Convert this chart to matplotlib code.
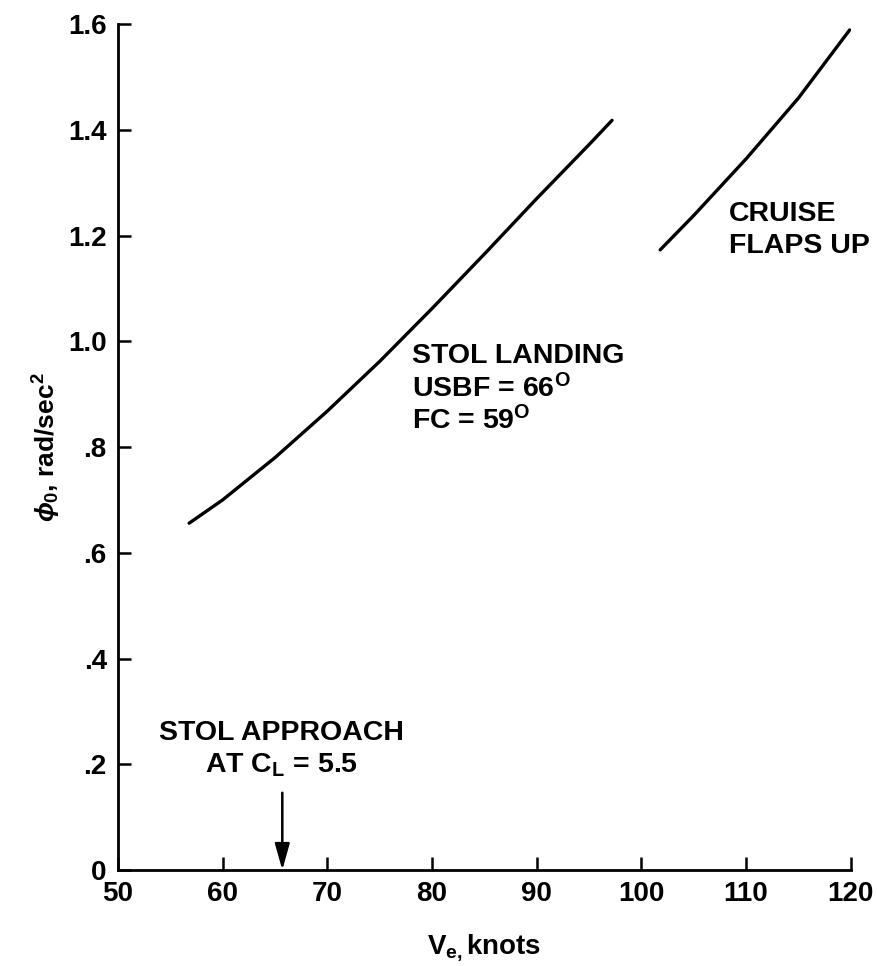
import matplotlib
matplotlib.use("Agg")
import matplotlib.pyplot as plt

plt.rcParams['font.family'] = ['Liberation Sans', 'DejaVu Sans']
plt.rcParams['font.weight'] = 'bold'
plt.rcParams['mathtext.fontset'] = 'custom'
plt.rcParams['mathtext.rm'] = 'Liberation Sans:bold'
plt.rcParams['mathtext.it'] = 'Liberation Sans:italic:bold'
plt.rcParams['mathtext.bf'] = 'Liberation Sans:bold'

# STOL landing curve (USBF = 66 deg, FC = 59 deg)
landing_v = [56.8, 60, 65, 70, 75, 80, 85, 90, 95, 97.2]
landing_phi = [0.656, 0.700, 0.780, 0.868, 0.962, 1.062, 1.165, 1.270, 1.372, 1.418]

# cruise, flaps up
cruise_v = [101.8, 105, 110, 115, 119.9]
cruise_phi = [1.173, 1.238, 1.345, 1.460, 1.589]

approach_v = 65.7

xticks = [50, 60, 70, 80, 90, 100, 110, 120]
yticks = [0, 0.2, 0.4, 0.6, 0.8, 1.0, 1.2, 1.4, 1.6]
ytick_labels = ['0', '.2', '.4', '.6', '.8', '1.0', '1.2', '1.4', '1.6']

fig = plt.figure(figsize=(8.77, 9.66), dpi=100)
ax = fig.add_axes([0.1345, 0.0994, 0.8355, 0.8756])

ax.plot(landing_v, landing_phi, color='black', lw=2.4, solid_capstyle='round')
ax.plot(cruise_v, cruise_phi, color='black', lw=2.4, solid_capstyle='round')

ax.set_xlim(50, 120)
ax.set_ylim(0, 1.6)
ax.set_xticks(xticks)
ax.set_yticks(yticks)
ax.set_yticklabels(ytick_labels)

for s in ['top', 'right']:
    ax.spines[s].set_visible(False)
for s in ['left', 'bottom']:
    ax.spines[s].set_linewidth(2.0)

ax.tick_params(direction='in', length=9.5, width=1.8, labelsize=20, pad=8)
for lab in ax.get_xticklabels() + ax.get_yticklabels():
    lab.set_fontweight('bold')

ax.set_xlabel(r'V$_{\mathbf{e,}}$knots', fontsize=20, fontweight='bold', labelpad=18)
ax.set_ylabel(r'$\phi_0$, rad/sec$^2$', fontsize=19, fontweight='bold', labelpad=4)

fs = 20.5
ax.text(78.1, 0.972, 'STOL LANDING', fontsize=fs, fontweight='bold', va='center')
ax.text(78.1, 0.91, r'USBF = 66$^{\mathbf{O}}$', fontsize=fs, fontweight='bold', va='center')
ax.text(78.1, 0.85, r'FC = 59$^{\mathbf{O}}$', fontsize=fs, fontweight='bold', va='center')

ax.text(108.4, 1.24, 'CRUISE', fontsize=fs, fontweight='bold', va='center')
ax.text(108.4, 1.18, 'FLAPS UP', fontsize=fs, fontweight='bold', va='center')

ax.text(65.6, 0.259, 'STOL APPROACH', fontsize=fs, fontweight='bold', ha='center', va='center')
ax.text(65.6, 0.199, r'AT C$_{\mathbf{L}}$ = 5.5', fontsize=fs, fontweight='bold', ha='center', va='center')

ax.annotate('', xy=(approach_v, 0.0), xytext=(approach_v, 0.146),
            arrowprops=dict(arrowstyle='-|>,head_length=1.6,head_width=0.45',
                            color='black', lw=1.8, shrinkA=0, shrinkB=0))

fig.savefig('out.png', dpi=100)
